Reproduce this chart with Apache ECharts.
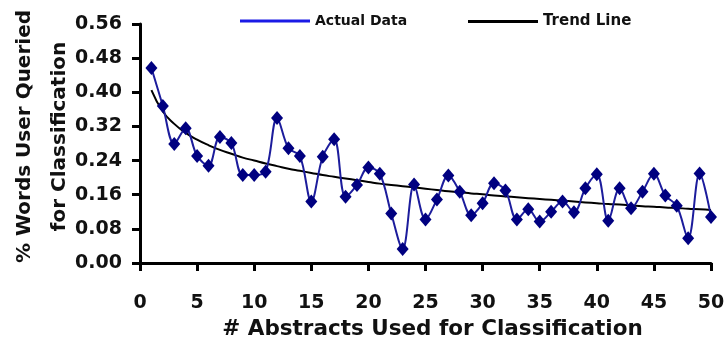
<!DOCTYPE html>
<html>
<head>
<meta charset="utf-8">
<script src="https://cdn.jsdelivr.net/npm/echarts@6/dist/echarts.min.js"></script>
<style>
  html, body { margin: 0; padding: 0; background: #fff; }
  #chart { width: 725px; height: 341px; }
</style>
</head>
<body>
<div id="chart"></div>
<script>
// number of abstracts used (x)
const abstracts = [
  1, 2, 3, 4, 5, 6, 7, 8, 9, 10,
  11, 12, 13, 14, 15, 16, 17, 18, 19, 20,
  21, 22, 23, 24, 25, 26, 27, 28, 29, 30,
  31, 32, 33, 34, 35, 36, 37, 38, 39, 40,
  41, 42, 43, 44, 45, 46, 47, 48, 49, 50
]
// % words user queried
const actualData = [
  0.457, 0.368, 0.279, 0.316, 0.251, 0.228, 0.295, 0.281, 0.206, 0.206,
  0.214, 0.340, 0.269, 0.251, 0.144, 0.249, 0.290, 0.155, 0.183, 0.224,
  0.209, 0.116, 0.033, 0.184, 0.102, 0.149, 0.205, 0.167, 0.112, 0.140,
  0.187, 0.170, 0.102, 0.126, 0.097, 0.120, 0.144, 0.119, 0.175, 0.208,
  0.099, 0.175, 0.128, 0.167, 0.209, 0.158, 0.134, 0.058, 0.210, 0.108
]
// trend line
const trendLine = [
  0.405, 0.355, 0.326, 0.305, 0.289, 0.276, 0.265, 0.256, 0.247, 0.240,
  0.233, 0.227, 0.221, 0.216, 0.211, 0.206, 0.202, 0.198, 0.194, 0.190,
  0.186, 0.183, 0.180, 0.177, 0.174, 0.171, 0.168, 0.166, 0.163, 0.161,
  0.158, 0.156, 0.154, 0.152, 0.150, 0.148, 0.146, 0.144, 0.142, 0.140,
  0.138, 0.137, 0.135, 0.133, 0.132, 0.130, 0.129, 0.127, 0.126, 0.124
]

const font = 'DejaVu Sans, Verdana, sans-serif'
const chart = echarts.init(document.getElementById('chart'))

const axisCommon = {
  axisLine: { show: true, lineStyle: { color: '#000', width: 3 } },
  axisTick: { show: true, length: 8, lineStyle: { color: '#000', width: 3 } },
  splitLine: { show: false },
  axisLabel: { color: '#111', fontFamily: font, fontWeight: 'bold', fontSize: 19 },
  nameTextStyle: { color: '#111', fontFamily: font, fontWeight: 'bold', fontSize: 19 }
}

const legendText = { color: '#111', fontFamily: font, fontWeight: 'bold', fontSize: 14 }

const option = {
  backgroundColor: '#fff',
  animation: false,
  grid: { left: 140, right: 14, top: 24, bottom: 78, outerBoundsMode: 'none' },
  legend: [
    {
      left: 235,
      top: 9,
      itemWidth: 70,
      itemHeight: 3,
      icon: 'rect',
      textStyle: legendText,
      data: [{ name: 'Actual Data', itemStyle: { color: '#1a1ae6' } }]
    },
    {
      left: 463,
      top: 9,
      itemWidth: 70,
      itemHeight: 3,
      icon: 'rect',
      textStyle: { ...legendText, fontSize: 15 },
      data: [{ name: 'Trend Line', itemStyle: { color: '#000' } }]
    }
  ],
  xAxis: {
    ...axisCommon,
    type: 'value',
    min: 0,
    max: 50,
    interval: 5,
    name: '# Abstracts Used for Classification',
    nameLocation: 'middle',
    nameGap: 55,
    nameMoveOverlap: false,
    nameTextStyle: { ...axisCommon.nameTextStyle, fontSize: 21.5, padding: [0, 0, 0, 14] },
    axisLabel: { ...axisCommon.axisLabel, margin: 31 }
  },
  yAxis: {
    ...axisCommon,
    type: 'value',
    min: 0,
    max: 0.56,
    interval: 0.08,
    name: '% Words User Queried\nfor Classification',
    nameLocation: 'middle',
    nameRotate: 90,
    nameGap: 63,
    nameMoveOverlap: false,
    nameTextStyle: { ...axisCommon.nameTextStyle, fontSize: 20, lineHeight: 35, padding: [0, 0, 0, 14] },
    axisLabel: {
      ...axisCommon.axisLabel,
      margin: 18,
      formatter: (v) => v.toFixed(2)
    }
  },
  series: [
    {
      name: 'Actual Data',
      type: 'line',
      data: abstracts.map((x, i) => [x, actualData[i]]),
      smooth: 0.35,
      symbol: 'diamond',
      symbolSize: [12, 14],
      itemStyle: { color: '#000080' },
      lineStyle: { color: '#1c1c9c', width: 2 },
      z: 3
    },
    {
      name: 'Trend Line',
      type: 'line',
      data: abstracts.map((x, i) => [x, trendLine[i]]),
      smooth: true,
      symbol: 'none',
      lineStyle: { color: '#000', width: 2 },
      z: 2
    }
  ]
}

chart.setOption(option)
</script>
</body>
</html>
